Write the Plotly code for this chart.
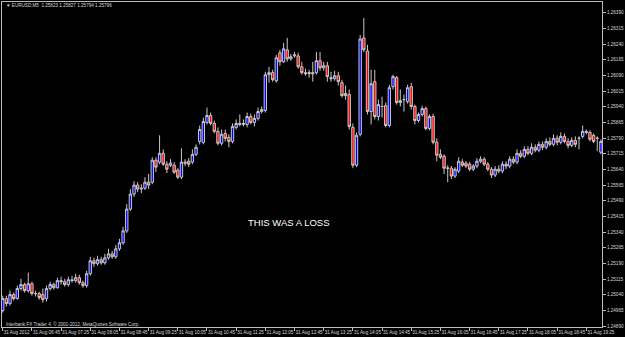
import plotly.graph_objects as go

# ---------------- data (EURUSD M5, 31 Aug 2012) ----------------
start_h, start_m, n_bars = 6, 5, 165
bar_times = []
for k in range(n_bars):
    t = start_h * 60 + start_m + 5 * k
    bar_times.append(f"{t // 60:02d}:{t % 60:02d}")

open_ = [
1.24965,1.25022,1.24998,1.25041,1.25022,1.25070,1.25089,1.25060,1.25093,1.25046,
1.25046,1.25041,1.25022,1.25070,1.25089,1.25074,1.25108,1.25103,1.25089,1.25112,
1.25108,1.25122,1.25098,1.25084,1.25141,1.25203,1.25189,1.25208,1.25193,1.25217,
1.25236,1.25222,1.25260,1.25289,1.25346,1.25450,1.25522,1.25565,1.25546,1.25550,
1.25579,1.25579,1.25684,1.25675,1.25717,1.25665,1.25660,1.25660,1.25637,1.25603,
1.25675,1.25679,1.25675,1.25712,1.25774,1.25770,1.25865,1.25898,1.25860,1.25822,
1.25765,1.25812,1.25793,1.25774,1.25841,1.25855,1.25855,1.25855,1.25893,1.25865,
1.25884,1.25917,1.25922,1.26093,1.26103,1.26064,1.26198,1.26155,1.26212,1.26169,
1.26183,1.26183,1.26131,1.26103,1.26098,1.26103,1.26103,1.26160,1.26126,1.26136,
1.26079,1.26074,1.26088,1.26055,1.26003,1.25998,1.25841,1.25660,1.25808,1.26269,
1.26207,1.25917,1.26060,1.25893,1.25941,1.25945,1.25850,1.26036,1.26079,1.25960,
1.25974,1.25964,1.26036,1.25941,1.25874,1.25903,1.25931,1.25836,1.25893,1.25770,
1.25712,1.25703,1.25646,1.25646,1.25608,1.25632,1.25675,1.25670,1.25665,1.25641,
1.25656,1.25679,1.25689,1.25665,1.25641,1.25613,1.25641,1.25632,1.25665,1.25656,
1.25689,1.25675,1.25717,1.25703,1.25736,1.25717,1.25746,1.25732,1.25760,1.25746,
1.25774,1.25760,1.25789,1.25770,1.25798,1.25774,1.25755,1.25779,1.25789,1.25798,
1.25822,1.25817,1.25803,1.25789,1.25722]

high = [
1.25036,1.25036,1.25060,1.25051,1.25084,1.25117,1.25098,1.25146,1.25103,1.25060,
1.25055,1.25070,1.25084,1.25103,1.25098,1.25122,1.25127,1.25117,1.25127,1.25131,
1.25141,1.25136,1.25108,1.25155,1.25222,1.25217,1.25227,1.25222,1.25236,1.25260,
1.25250,1.25279,1.25308,1.25365,1.25474,1.25546,1.25584,1.25579,1.25569,1.25603,
1.25618,1.25698,1.25698,1.25803,1.25736,1.25679,1.25689,1.25675,1.25646,1.25741,
1.25689,1.25694,1.25736,1.25760,1.25850,1.25888,1.25936,1.25912,1.25874,1.25841,
1.25831,1.25831,1.25808,1.25860,1.25879,1.25903,1.25879,1.25912,1.25907,1.25903,
1.25936,1.25941,1.26107,1.26131,1.26117,1.26188,1.26212,1.26245,1.26269,1.26193,
1.26202,1.26198,1.26155,1.26122,1.26117,1.26155,1.26202,1.26202,1.26155,1.26155,
1.26107,1.26112,1.26107,1.26069,1.26041,1.26022,1.25860,1.25817,1.26283,1.26364,
1.26236,1.26117,1.26117,1.25974,1.25988,1.25960,1.26045,1.26093,1.26088,1.26022,
1.25998,1.26045,1.26055,1.25950,1.25912,1.25945,1.25941,1.25903,1.25907,1.25789,
1.25736,1.25712,1.25660,1.25656,1.25651,1.25698,1.25689,1.25679,1.25675,1.25665,
1.25694,1.25703,1.25698,1.25675,1.25651,1.25656,1.25660,1.25679,1.25679,1.25703,
1.25703,1.25736,1.25732,1.25751,1.25751,1.25765,1.25760,1.25774,1.25774,1.25789,
1.25793,1.25808,1.25803,1.25817,1.25812,1.25789,1.25793,1.25798,1.25798,1.25850,
1.25831,1.25827,1.25812,1.25798,1.25784]

low = [
1.24955,1.24984,1.24989,1.25013,1.25017,1.25060,1.25051,1.25051,1.25036,1.25032,
1.25017,1.25003,1.25008,1.25060,1.25065,1.25070,1.25089,1.25079,1.25079,1.25098,
1.25098,1.25089,1.25074,1.25074,1.25131,1.25174,1.25179,1.25184,1.25184,1.25208,
1.25212,1.25212,1.25250,1.25279,1.25336,1.25441,1.25508,1.25531,1.25527,1.25541,
1.25546,1.25569,1.25627,1.25665,1.25656,1.25622,1.25651,1.25618,1.25594,1.25594,
1.25656,1.25651,1.25665,1.25703,1.25760,1.25760,1.25855,1.25850,1.25812,1.25755,
1.25755,1.25774,1.25746,1.25765,1.25831,1.25846,1.25846,1.25841,1.25855,1.25846,
1.25874,1.25907,1.25912,1.26055,1.26060,1.26055,1.26136,1.26150,1.26155,1.26160,
1.26174,1.26122,1.26093,1.26088,1.26079,1.26060,1.26093,1.26112,1.26112,1.26060,
1.26060,1.26064,1.26041,1.25984,1.25974,1.25831,1.25646,1.25651,1.25798,1.26202,
1.25903,1.25855,1.25879,1.25874,1.25888,1.25841,1.25841,1.26022,1.25950,1.25941,
1.25917,1.25955,1.25926,1.25855,1.25865,1.25893,1.25827,1.25827,1.25760,1.25679,
1.25689,1.25618,1.25579,1.25594,1.25599,1.25622,1.25651,1.25646,1.25632,1.25632,
1.25646,1.25670,1.25656,1.25632,1.25599,1.25603,1.25622,1.25622,1.25641,1.25646,
1.25665,1.25665,1.25694,1.25694,1.25708,1.25708,1.25722,1.25722,1.25732,1.25736,
1.25751,1.25751,1.25755,1.25760,1.25765,1.25741,1.25746,1.25746,1.25736,1.25789,
1.25808,1.25774,1.25765,1.25727,1.25712]

close = [
1.25022,1.24998,1.25041,1.25022,1.25070,1.25089,1.25060,1.25093,1.25046,1.25046,
1.25027,1.25017,1.25070,1.25089,1.25074,1.25108,1.25103,1.25089,1.25112,1.25108,
1.25122,1.25098,1.25084,1.25141,1.25203,1.25189,1.25208,1.25193,1.25217,1.25236,
1.25222,1.25260,1.25289,1.25346,1.25450,1.25522,1.25565,1.25546,1.25550,1.25579,
1.25565,1.25684,1.25651,1.25717,1.25665,1.25641,1.25670,1.25627,1.25603,1.25675,
1.25670,1.25665,1.25712,1.25746,1.25831,1.25869,1.25898,1.25860,1.25822,1.25765,
1.25808,1.25789,1.25774,1.25846,1.25860,1.25860,1.25860,1.25893,1.25865,1.25884,
1.25917,1.25926,1.26093,1.26103,1.26069,1.26174,1.26155,1.26217,1.26169,1.26179,
1.26188,1.26131,1.26103,1.26098,1.26103,1.26098,1.26160,1.26126,1.26136,1.26084,
1.26074,1.26088,1.26060,1.25993,1.25993,1.25846,1.25660,1.25803,1.26264,1.26212,
1.25917,1.26050,1.25893,1.25950,1.25941,1.25850,1.26031,1.26084,1.25960,1.25969,
1.25974,1.26031,1.25941,1.25874,1.25903,1.25931,1.25836,1.25893,1.25770,1.25708,
1.25698,1.25646,1.25646,1.25608,1.25641,1.25679,1.25660,1.25656,1.25641,1.25656,
1.25679,1.25689,1.25665,1.25641,1.25613,1.25641,1.25632,1.25665,1.25656,1.25689,
1.25675,1.25717,1.25703,1.25736,1.25717,1.25746,1.25732,1.25760,1.25746,1.25774,
1.25760,1.25789,1.25770,1.25798,1.25774,1.25755,1.25779,1.25760,1.25789,1.25822,
1.25817,1.25784,1.25774,1.25789,1.25774]

x_tick_times = ["06:05","06:45","07:25","08:05","08:45","09:25","10:05","10:45",
                "11:25","12:05","12:45","13:25","14:05","14:45","15:25","16:05",
                "16:45","17:25","18:05","18:45","19:25"]
x_tick_labels = ["31 Aug 2012","31 Aug 06:45","31 Aug 07:25","31 Aug 08:05","31 Aug 08:45",
                 "31 Aug 09:25","31 Aug 10:05","31 Aug 10:45","31 Aug 11:25","31 Aug 12:05",
                 "31 Aug 12:45","31 Aug 13:25","31 Aug 14:05","31 Aug 14:45","31 Aug 15:25",
                 "31 Aug 16:05","31 Aug 16:45","31 Aug 17:25","31 Aug 18:05","31 Aug 18:45",
                 "31 Aug 19:25"]
y_tick_labels = ["1.24890","1.24965","1.25040","1.25115","1.25190","1.25265","1.25340",
                 "1.25415","1.25490","1.25565","1.25640","1.25715","1.25790","1.25865",
                 "1.25940","1.26015","1.26090","1.26165","1.26240","1.26315","1.26390"]

header_text = "▼ EURUSD,M5  1.25823 1.25827 1.25794 1.25796"
copyright_text = "Interbank FX Trader 4, © 2001-2012, MetaQuotes Software Corp."
note_text = "THIS WAS A LOSS"

# ---------------- styling ----------------
BG = "#000000"
FRAME = "#bdbdbd"
WICK = "#c8c8c8"
BULL = "#0000ff"
BEAR = "#ff0000"
SMALL_FONT = dict(family="Liberation Sans, Arial, sans-serif", size=4.6, color="#d8d8d8")

fig = go.Figure(go.Candlestick(
    x=bar_times, open=open_, high=high, low=low, close=close,
    increasing=dict(line=dict(color=WICK, width=1), fillcolor=BULL),
    decreasing=dict(line=dict(color=WICK, width=1), fillcolor=BEAR),
    whiskerwidth=0, hoverinfo="skip",
))

fig.update_layout(
    width=625, height=337,
    margin=dict(l=1, r=20, t=2, b=10),
    paper_bgcolor=BG, plot_bgcolor=BG,
    showlegend=False,
    boxgap=0.08,
    xaxis=dict(
        type="category", range=[-0.2, 164.3],
        tickmode="array", tickvals=x_tick_times, ticktext=x_tick_labels,
        tickangle=0,
        ticks="outside", ticklen=3, tickcolor=FRAME, tickwidth=1,
        ticklabelposition="outside right",
        tickfont=SMALL_FONT,
        showgrid=False, zeroline=False,
        showline=True, linecolor=FRAME, linewidth=1, mirror=True,
        rangeslider=dict(visible=False),
        fixedrange=True,
    ),
    yaxis=dict(
        side="right", range=[1.24886, 1.26441],
        tickmode="array", tickvals=[float(s) for s in y_tick_labels], ticktext=y_tick_labels,
        ticks="outside", ticklen=3, tickcolor=FRAME, tickwidth=1,
        tickfont=SMALL_FONT,
        showgrid=False, zeroline=False,
        showline=True, linecolor=FRAME, linewidth=1, mirror=True,
        fixedrange=True,
    ),
    annotations=[
        dict(text=header_text, xref="paper", yref="paper", x=0.003, y=0.99,
             xanchor="left", yanchor="middle", showarrow=False, font=SMALL_FONT),
        dict(text=copyright_text, xref="paper", yref="paper", x=0.003, y=0.01,
             xanchor="left", yanchor="middle", showarrow=False, font=SMALL_FONT),
        dict(text=note_text, xref="paper", yref="paper", x=0.477, y=0.323,
             xanchor="center", yanchor="middle", showarrow=False,
             font=dict(family="Liberation Sans, Arial, sans-serif", size=9.5, color="#ffffff")),
    ],
)

fig.write_html("out.html", config={"displayModeBar": False})
